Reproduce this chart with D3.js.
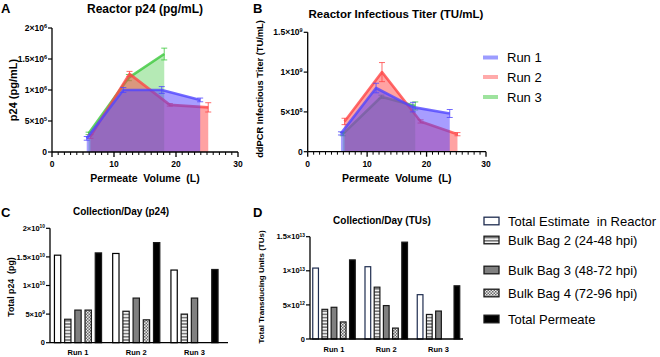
<!DOCTYPE html>
<html><head><meta charset="utf-8">
<script src="https://cdn.jsdelivr.net/npm/d3@7"></script>
<style>
html,body{margin:0;padding:0;background:#fff;}
svg{display:block;font-family:"Liberation Sans",Arial,Helvetica,sans-serif;}
</style></head>
<body>
<svg id="chart" width="660" height="357"></svg>
<script>
// ---------------- DATA ----------------
const runNames = ["Run 1", "Run 2", "Run 3"];
// Panel A / B : permeate volumes (L)
const volRun1 = [5.6, 11.5, 17.7, 23.9];
const volRun2 = [6.2, 12.5, 19.0, 25.2];
const volRun3 = [5.9, 12.4, 18.1];
// Panel A : reactor p24 (pg/mL)
const p24Run1 = [2.2e5, 1.0e6, 1.0e6, 8.4e5];
const p24Run2 = [2.5e5, 1.26e6, 7.6e5, 7.2e5];
const p24Run3 = [3.0e5, 1.2e6, 1.58e6];
const p24ErrRun1 = [3e4, 4e4, 5.5e4, 3e4];
const p24ErrRun2 = [3e4, 4e4, 2e4, 7.5e4];
const p24ErrRun3 = [2e4, 5e4, 9.5e4];
// Panel B : reactor infectious titer (TU/mL)
const titerRun1 = [2.3e8, 8.0e8, 5.6e8, 4.8e8];
const titerRun2 = [3.8e8, 1.0e9, 3.8e8, 2.2e8];
const titerRun3 = [2.2e8, 6.9e8, 5.75e8];
const titerErrRun1 = [2e7, 6e7, 6e7, 5e7];
const titerErrRun2 = [4e7, 1.2e8, 2e7, 2e7];
const titerErrRun3 = [2e7, 2e7, 5e7];
// Panel C : collection/day p24 (pg)
const totalEstimateP24 = [1.53e10, 1.56e10, 1.27e10];
const bag2P24 = [4.1e9, 5.5e9, 5.0e9];
const bag3P24 = [5.7e9, 7.8e9, 7.8e9];
const bag4P24 = [5.7e9, 4.0e9, 0];
const permeateP24 = [1.57e10, 1.75e10, 1.28e10];
// Panel D : collection/day TUs
const totalEstimateTU = [1.04e13, 1.06e13, 6.5e12];
const bag2TU = [4.35e12, 7.6e12, 3.6e12];
const bag3TU = [4.65e12, 4.9e12, 4.1e12];
const bag4TU = [2.5e12, 1.6e12, 0];
const permeateTU = [1.16e13, 1.42e13, 7.8e12];
// tick labels  [value, base, exponent]
const ticksA = [[0,"0",""],[5e5,"5×10","5"],[1e6,"1×10","6"],[1.5e6,"1.5×10","6"],[2e6,"2×10","6"]];
const ticksB = [[0,"0",""],[5e8,"5×10","8"],[1e9,"1×10","9"],[1.5e9,"1.5×10","9"]];
const ticksC = [[0,"0",""],[5e9,"5×10","9"],[1e10,"1×10","10"],[1.5e10,"1.5×10","10"],[2e10,"2×10","10"]];
const ticksD = [[0,"0",""],[5e12,"5×10","12"],[1e13,"1×10","13"],[1.5e13,"1.5×10","13"]];
const xTicksVol = [0, 10, 20, 30];
const barSeriesNames = ["Total Estimate  in Reactor", "Bulk Bag 2 (24-48 hpi)", "Bulk Bag 3 (48-72 hpi)", "Bulk Bag 4 (72-96 hpi)", "Total Permeate"];

// ---------------- STYLE ----------------
const runLine = ["rgba(80,70,255,0.8)", "rgba(255,70,70,0.8)", "rgba(60,200,60,0.8)"];
const runFill = ["rgba(80,60,255,0.5)", "rgba(255,70,70,0.5)", "rgba(60,200,60,0.38)"];
const runLegend = ["#9c9cff", "#ffaaaa", "#9ee39e"];

const svg = d3.select("#chart");
const defs = svg.append("defs");
// patterns
const ph = defs.append("pattern").attr("id","hstripe").attr("patternUnits","userSpaceOnUse").attr("width",6).attr("height",3.2);
ph.append("rect").attr("width",6).attr("height",3.2).attr("fill","#f2f2f2");
ph.append("rect").attr("width",6).attr("height",1.6).attr("fill","#7a7a7a");
const pc = defs.append("pattern").attr("id","checker").attr("patternUnits","userSpaceOnUse").attr("width",3).attr("height",3);
pc.append("rect").attr("width",3).attr("height",3).attr("fill","#e8e8e8");
pc.append("rect").attr("width",1.5).attr("height",1.5).attr("fill","#6a6a6a");
pc.append("rect").attr("x",1.5).attr("y",1.5).attr("width",1.5).attr("height",1.5).attr("fill","#6a6a6a");

function bold(sel){ return sel.attr("font-weight","bold").attr("fill","#000"); }

function yTicks(g, ticks, y, axisX, fs){
  ticks.forEach(t=>{
    g.append("line").attr("x1",axisX-4).attr("x2",axisX).attr("y1",y(t[0])).attr("y2",y(t[0])).attr("stroke","#000").attr("stroke-width",1.2);
    const tx = bold(g.append("text")).attr("x",axisX-5).attr("y",y(t[0])).attr("dy","0.35em").attr("text-anchor","end").attr("font-size",fs);
    tx.append("tspan").text(t[1]);
    if(t[2]) tx.append("tspan").attr("font-size",fs*0.65).attr("dy","-0.55em").text(t[2]);
  });
}

// ---------------- LINE PANELS ----------------
function linePanel(opts){
  const g = svg.append("g");
  const x = d3.scaleLinear().domain([0,30]).range(opts.xr);
  const y = d3.scaleLinear().domain([0,opts.ymax]).range(opts.yr);
  const order = [2,1,0];
  order.forEach(i=>{
    const s = opts.series[i];
    const pts = s.x.map((v,j)=>({x:v, y:s.y[j], e:s.e[j]}));
    const area = d3.area().x(d=>x(d.x)).y0(y(0)).y1(d=>y(d.y));
    g.append("path").attr("d",area(pts)).attr("fill",runFill[i]);
    const line = d3.line().x(d=>x(d.x)).y(d=>y(d.y));
    g.append("path").attr("d",line(pts)).attr("fill","none").attr("stroke",runLine[i]).attr("stroke-width",2.6).attr("stroke-linejoin","round");
    pts.forEach(d=>{
      const x0 = x(d.x);
      g.append("line").attr("x1",x0).attr("x2",x0).attr("y1",y(d.y-d.e)).attr("y2",y(d.y+d.e)).attr("stroke",runLine[i]).attr("stroke-width",1);
      [d.y-d.e, d.y+d.e].forEach(v=>g.append("line").attr("x1",x0-3).attr("x2",x0+3).attr("y1",y(v)).attr("y2",y(v)).attr("stroke",runLine[i]).attr("stroke-width",1));
    });
  });
  // axes
  g.append("line").attr("x1",x(0)).attr("x2",x(0)).attr("y1",y(0)).attr("y2",y(opts.ymax)).attr("stroke","#000").attr("stroke-width",1.3);
  g.append("line").attr("x1",x(0)).attr("x2",x(30)).attr("y1",y(0)).attr("y2",y(0)).attr("stroke","#000").attr("stroke-width",1.3);
  d3.range(0,31).forEach(v=>{
    const major = v%10===0;
    g.append("line").attr("x1",x(v)).attr("x2",x(v)).attr("y1",y(0)).attr("y2",y(0)+(major?5:3)).attr("stroke","#000").attr("stroke-width",major?1.3:1);
  });
  xTicksVol.forEach(v=>{
    bold(g.append("text")).attr("x",x(v)).attr("y",y(0)+15).attr("text-anchor","middle").attr("font-size",8.5).text(v);
  });
  yTicks(g, opts.ticks, y, x(0), 8.5);
  bold(g.append("text")).attr("x",(opts.xr[0]+opts.xr[1])/2).attr("y",182).attr("text-anchor","middle").attr("font-size",10.5).attr("xml:space","preserve").text("Permeate  Volume  (L)");
  bold(g.append("text")).attr("transform",`translate(${opts.ylabX},${opts.ylabY}) rotate(-90)`).attr("text-anchor","middle").attr("font-size",opts.ylabFs).text(opts.ylab);
  bold(g.append("text")).attr("x",opts.titleX).attr("y",opts.titleY).attr("text-anchor","middle").attr("font-size",opts.titleFs).text(opts.title);
  bold(g.append("text")).attr("x",opts.letterX).attr("y",13).attr("font-size",13).text(opts.letter);
}

linePanel({
  xr:[52,238], yr:[152,28], ymax:2e6, ticks:ticksA,
  series:[{x:volRun1,y:p24Run1,e:p24ErrRun1},{x:volRun2,y:p24Run2,e:p24ErrRun2},{x:volRun3,y:p24Run3,e:p24ErrRun3}],
  ylab:"p24 (pg/mL)", ylabX:17, ylabY:90, ylabFs:11,
  title:"Reactor p24 (pg/mL)", titleX:145, titleY:13, titleFs:12, letter:"A", letterX:1
});
linePanel({
  xr:[307.7,486], yr:[151.7,32.3], ymax:1.5e9, ticks:ticksB,
  series:[{x:volRun1,y:titerRun1,e:titerErrRun1},{x:volRun2,y:titerRun2,e:titerErrRun2},{x:volRun3,y:titerRun3,e:titerErrRun3}],
  ylab:"ddPCR Infectious Titer (TU/mL)", ylabX:263, ylabY:89, ylabFs:9.3,
  title:"Reactor Infectious Titer (TU/mL)", titleX:396, titleY:18, titleFs:11.5, letter:"B", letterX:253
});

// legend runs
const lg = svg.append("g");
runNames.forEach((r,i)=>{
  const yy = [57.5,77,97][i];
  lg.append("line").attr("x1",483).attr("x2",498).attr("y1",yy).attr("y2",yy).attr("stroke",runLegend[i]).attr("stroke-width",4);
  lg.append("text").attr("x",507).attr("y",yy).attr("dy","0.36em").attr("font-size",13).attr("fill","#000").text(r);
});

// ---------------- BAR PANELS ----------------
const barFill = ["#ffffff","url(#hstripe)","#808080","url(#checker)","#000000"];
function barPanel(opts){
  const g = svg.append("g");
  const y = d3.scaleLinear().domain([0,opts.ymax]).range(opts.yr);
  const xg = d3.scalePoint().domain(runNames).range(opts.gr);
  const sub = d3.scaleBand().domain(d3.range(5)).range([-opts.step*2.5, opts.step*2.5]).paddingInner(opts.pad).paddingOuter(opts.pad/2);
  opts.data.forEach((vals,k)=>{
    vals.forEach((v,i)=>{
      if(v<=0) return;
      g.append("rect").attr("x",xg(runNames[i])+sub(k)).attr("width",sub.bandwidth())
        .attr("y",y(v)).attr("height",y(0)-y(v))
        .attr("fill",barFill[k]).attr("stroke",k===0?opts.whiteStroke:"#1a1a1a").attr("stroke-width",1.2);
    });
  });
  g.append("line").attr("x1",opts.ax).attr("x2",opts.ax).attr("y1",y(0)).attr("y2",y(opts.ymax)).attr("stroke","#000").attr("stroke-width",1.3);
  g.append("line").attr("x1",opts.ax).attr("x2",opts.axEnd).attr("y1",y(0)).attr("y2",y(0)).attr("stroke","#000").attr("stroke-width",1.3);
  yTicks(g, opts.ticks, y, opts.ax, 7.5);
  runNames.forEach(r=>{
    bold(g.append("text")).attr("x",xg(r)).attr("y",y(0)+opts.runDy).attr("text-anchor","middle").attr("font-size",7.5).text(r);
  });
  bold(g.append("text")).attr("transform",`translate(${opts.ylabX},${opts.ylabY}) rotate(-90)`).attr("text-anchor","middle").attr("font-size",opts.ylabFs).attr("xml:space","preserve").text(opts.ylab);
  bold(g.append("text")).attr("x",opts.titleX).attr("y",opts.titleY).attr("text-anchor","middle").attr("font-size",10).text(opts.title);
  bold(g.append("text")).attr("x",opts.letterX).attr("y",opts.letterY).attr("font-size",13).text(opts.letter);
}

barPanel({
  ymax:2e10, yr:[342.7,228.3], gr:[78,194.5], step:10.2, pad:0.38, ax:50, axEnd:228,
  data:[totalEstimateP24,bag2P24,bag3P24,bag4P24,permeateP24], whiteStroke:"#000",
  ticks:ticksC, runDy:12.5, ylab:"Total p24  (pg)", ylabX:14, ylabY:287, ylabFs:8.8,
  title:"Collection/Day (p24)", titleX:121, titleY:215, letter:"C", letterX:1, letterY:217
});
barPanel({
  ymax:1.5e13, yr:[339,236.7], gr:[334,438.5], step:9.2, pad:0.38, ax:310, axEnd:463,
  data:[totalEstimateTU,bag2TU,bag3TU,bag4TU,permeateTU], whiteStroke:"#1f2d50",
  ticks:ticksD, runDy:12.5, ylab:"Total Transducing Units (TUs)", ylabX:264, ylabY:287, ylabFs:8,
  title:"Collection/Day (TUs)", titleX:382, titleY:223.5, letter:"D", letterX:253, letterY:217
});

// legend bars
const lb = svg.append("g");
barSeriesNames.forEach((n,k)=>{
  const yy = [221,240,270,293,319][k];
  lb.append("rect").attr("x",484).attr("y",yy-3.8).attr("width",15).attr("height",7.6)
    .attr("fill",barFill[k]).attr("stroke",k===0?"#1f2d50":"#1a1a1a").attr("stroke-width",1.3);
  lb.append("text").attr("x",508).attr("y",yy).attr("dy","0.36em").attr("font-size",13).attr("fill","#000").attr("xml:space","preserve").text(n);
});
</script>
</body></html>
